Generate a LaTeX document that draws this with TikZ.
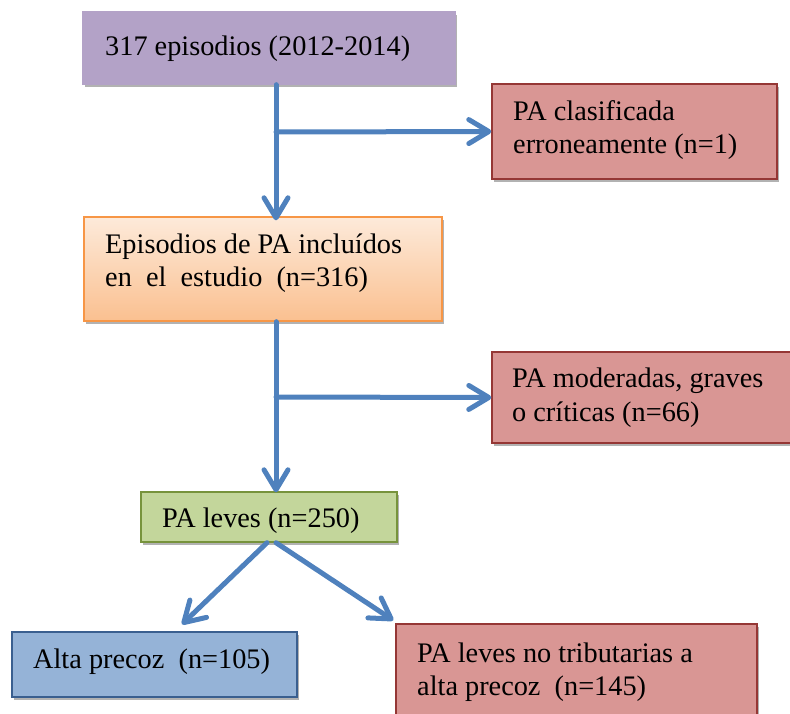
\documentclass[tikz,border=0pt]{standalone}
\usepackage{fontspec}
\setmainfont{Liberation Serif}
\usetikzlibrary{arrows.meta,shadows,calc}
\definecolor{purplebox}{HTML}{B3A2C7}
\definecolor{pinkfill}{HTML}{D99694}
\definecolor{pinkline}{HTML}{953735}
\definecolor{orangeline}{HTML}{F79646}
\definecolor{orangetop}{HTML}{FDEADA}
\definecolor{orangebot}{HTML}{FAC090}
\definecolor{greenfill}{HTML}{C3D69B}
\definecolor{greenline}{HTML}{77933C}
\definecolor{bluefill}{HTML}{95B3D7}
\definecolor{blueline}{HTML}{3A5F8F}
\definecolor{arrowblue}{HTML}{4F81BD}
\tikzset{
  box/.style={rectangle, inner sep=0pt, line width=1.4pt,
    drop shadow={shadow xshift=2pt, shadow yshift=-3pt, opacity=0.3, fill=black}},
  lbl/.style={anchor=base west, inner sep=0pt, font=\fontsize{28.3}{33}\selectfont, text=black},
  arr/.style={draw=arrowblue, line width=5pt, line cap=round,
    -{Straight Barb[length=20pt, width=24pt, round]}}
}
\begin{document}
\begin{tikzpicture}[x=1pt, y=-1pt]
\useasboundingbox (0,0) rectangle (790,713);
\clip (0,0) rectangle (790,713);
% boxes
\node[box, fill=purplebox, draw=purplebox, minimum width=372pt, minimum height=72pt] (b1) at (269,48) {};
\node[box, fill=pinkfill, draw=pinkline, minimum width=285pt, minimum height=95pt] (b2) at (634.5,131.5) {};
\node[box, top color=orangetop, bottom color=orangebot, draw=orangeline, minimum width=358pt, minimum height=104pt] (b3) at (263,269) {};
\node[box, fill=pinkfill, draw=pinkline, minimum width=300pt, minimum height=91pt] (b4) at (642,397.5) {};
\node[box, fill=greenfill, draw=greenline, minimum width=256pt, minimum height=50pt] (b5) at (269,517) {};
\node[box, fill=bluefill, draw=blueline, minimum width=285pt, minimum height=65pt] (b6) at (154.5,664.5) {};
\node[box, fill=pinkfill, draw=pinkline, minimum width=361pt, minimum height=106pt] (b7) at (576.5,677) {};
% texts
\node[lbl] (t1) at (105,55) {317 episodios (2012-2014)};
\node[lbl] (t2a) at (513,120) {PA clasificada};
\node[lbl] (t2b) at (513,153) {erroneamente (n=1)};
\node[lbl] (t3a) at (105,253) {Episodios de PA incluídos};
\node[lbl] (t3b) at (105,286) {en\ \ el\ \ estudio\ \ (n=316)};
\node[lbl] (t4a) at (512,387) {PA moderadas, graves};
\node[lbl] (t4b) at (512,421) {o críticas (n=66)};
\node[lbl] (t5) at (162,527) {PA leves (n=250)};
\node[lbl] (t6) at (33,668) {Alta precoz\ \ (n=105)};
\node[lbl] (t7a) at (417,662) {PA leves no tributarias a};
\node[lbl] (t7b) at (417,695) {alta precoz\ \ (n=145)};
% junctions
\coordinate (j1) at (276,132);
\coordinate (j2) at (276,397);
% connectors
\draw[arr] (b1.south -| j1) -- ([yshift=-4pt]b3.north -| j1);
\draw[arr] (j1) -- (b2.west);
\draw[arr] (b3.south -| j2) -- ([yshift=-1pt]b5.north -| j2);
\draw[arr] (j2) -- (b4.west);
\draw[arr] ($(b5.south)+(-2,0)$) -- ($(b6.north)+(27.5,-7)$);
\draw[arr] ($(b5.south)+(7,0)$) -- ($(b7.north west)+(-2,-3)$);
\end{tikzpicture}
\end{document}
